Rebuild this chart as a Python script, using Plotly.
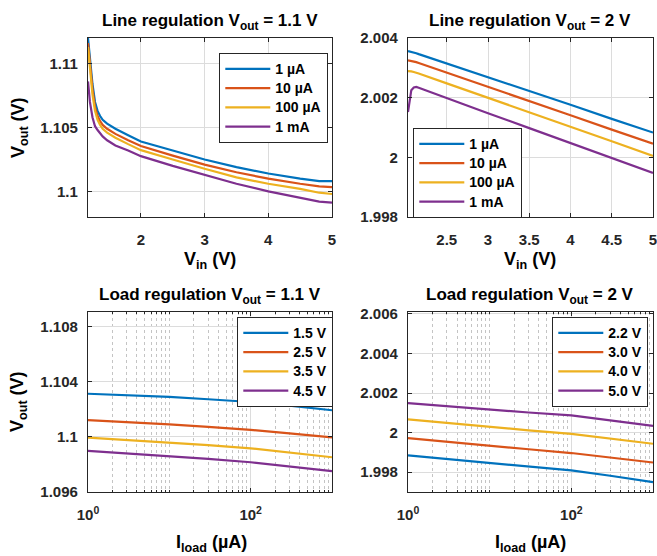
import plotly.graph_objects as go

# ---------------- data ----------------
series_names_line = ["1 µA", "10 µA", "100 µA", "1 mA"]
series_names_load11 = ["1.5 V", "2.5 V", "3.5 V", "4.5 V"]
series_names_load2 = ["2.2 V", "3.0 V", "4.0 V", "5.0 V"]
colors = ["#0072BD", "#D95319", "#EDB120", "#7E2F8E"]

# Line regulation, Vout = 1.1 V
vin_11 = [1.17, 1.2, 1.24, 1.28, 1.32, 1.36, 1.4, 1.47, 1.6, 1.8, 2.0, 2.5, 3.0, 3.5, 4.0, 4.5, 4.8, 5.0]
line11_1uA = [1.1120, 1.1105, 1.1084, 1.1070, 1.1063, 1.1059, 1.1056, 1.1053, 1.1049, 1.1044, 1.1039, 1.1032, 1.1025, 1.1019, 1.1014, 1.1010, 1.1008, 1.1008]
line11_10uA = [1.1116, 1.1100, 1.1080, 1.1066, 1.1059, 1.1055, 1.1052, 1.1049, 1.1045, 1.1040, 1.10355, 1.1028, 1.1021, 1.1015, 1.1010, 1.1006, 1.1004, 1.10034]
line11_100uA = [1.1113, 1.1096, 1.1076, 1.1063, 1.1056, 1.1052, 1.1049, 1.1046, 1.1042, 1.1037, 1.10323, 1.1025, 1.10177, 1.1011, 1.1006, 1.1002, 1.0999, 1.0998]
line11_1mA = [1.1086, 1.1070, 1.1058, 1.1051, 1.1048, 1.1045, 1.1043, 1.1040, 1.1036, 1.1032, 1.10276, 1.1020, 1.10127, 1.1006, 1.1000, 1.0995, 1.0992, 1.09912]

# Line regulation, Vout = 2 V
vin_2 = [2.03, 2.05, 2.07, 2.1, 2.13, 2.16, 2.5, 3.0, 3.5, 4.0, 4.5, 5.0]
line2_1uA = [2.00356, 2.00355, 2.00354, 2.00352, 2.00349, 2.00346, 2.00315, 2.00268, 2.00222, 2.00176, 2.00129, 2.00083]
line2_10uA = [2.00325, 2.00324, 2.00323, 2.00322, 2.00319, 2.00316, 2.00284, 2.00236, 2.00189, 2.00141, 2.00093, 2.00046]
line2_100uA = [2.00289, 2.00289, 2.00288, 2.00286, 2.00284, 2.00281, 2.00248, 2.00200, 2.00151, 2.00102, 2.00054, 2.00005]
line2_1mA = [2.00152, 2.00195, 2.00225, 2.00234, 2.00236, 2.00233, 2.00198, 2.00148, 2.00098, 2.00048, 1.99998, 1.99948]

# Load regulation (I_load in µA)
iload = [1, 3, 10, 30, 100, 300, 1000]
load11_15 = [1.10313, 1.10302, 1.10290, 1.10273, 1.10253, 1.10227, 1.10193]
load11_25 = [1.10121, 1.10107, 1.10090, 1.10072, 1.10051, 1.10026, 1.09996]
load11_35 = [1.09994, 1.09978, 1.09960, 1.09940, 1.09917, 1.09887, 1.09852]
load11_45 = [1.09898, 1.09881, 1.09862, 1.09840, 1.09816, 1.09786, 1.09751]

load2_22 = [1.99885, 1.99866, 1.99847, 1.99828, 1.99809, 1.99782, 1.99750]
load2_30 = [1.99972, 1.99953, 1.99935, 1.99916, 1.99897, 1.99875, 1.99849]
load2_40 = [2.00067, 2.00048, 2.00030, 2.00012, 1.99994, 1.99971, 1.99944]
load2_50 = [2.00149, 2.00133, 2.00118, 2.00102, 2.00087, 2.00063, 2.00034]

# ticks
ytick_tl = [1.1, 1.105, 1.11]
ytext_tl = ["1.1", "1.105", "1.11"]
xtick_tl = [2, 3, 4, 5]
ytick_tr = [1.998, 2.0, 2.002, 2.004]
ytext_tr = ["1.998", "2", "2.002", "2.004"]
xtick_tr = [2.5, 3, 3.5, 4, 4.5, 5]
ytick_bl = [1.096, 1.1, 1.104, 1.108]
ytext_bl = ["1.096", "1.1", "1.104", "1.108"]
ytick_br = [1.998, 2.0, 2.002, 2.004, 2.006]
ytext_br = ["1.998", "2", "2.002", "2.004", "2.006"]
xtick_log = [1, 100]
xtext_log = ["10<sup>0</sup>", "10<sup>2</sup>"]
minor_log = [2, 3, 4, 5, 6, 7, 8, 9, 10, 20, 30, 40, 50, 60, 70, 80, 90,
             200, 300, 400, 500, 600, 700, 800, 900]

# ---------------- figure ----------------
W, H = 657, 556


def fx(px):
    return px / W


def fy(py):
    return (H - py) / H


FONT = "Liberation Sans, Arial, sans-serif"
AXC = "#262626"
fig = go.Figure()


def leg_name(s):
    return '<span style="font-size:14px">' + s + "</span>"


panels = [
    ("x", "y", "legend", vin_11, [line11_1uA, line11_10uA, line11_100uA, line11_1mA], series_names_line),
    ("x2", "y2", "legend2", vin_2, [line2_1uA, line2_10uA, line2_100uA, line2_1mA], series_names_line),
    ("x3", "y3", "legend3", iload, [load11_15, load11_25, load11_35, load11_45], series_names_load11),
    ("x4", "y4", "legend4", iload, [load2_22, load2_30, load2_40, load2_50], series_names_load2),
]
for xa, ya, lg, xs, ys_list, names in panels:
    for ys, nm, c in zip(ys_list, names, colors):
        fig.add_trace(go.Scatter(x=xs, y=ys, mode="lines", name=leg_name(nm), xaxis=xa, yaxis=ya,
                                 legend=lg, line=dict(color=c, width=2.2)))

tickfont = dict(family=FONT, size=15, color=AXC, weight="bold")
base_ax = dict(showline=True, linecolor=AXC, linewidth=1.3, mirror="ticks", ticks="inside",
               ticklen=4, tickcolor=AXC, tickwidth=1, showgrid=True, gridcolor="#dcdcdc",
               gridwidth=1, zeroline=False, tickfont=tickfont, automargin=False,
               ticklabeloverflow="allow")

dx_l = [fx(88), fx(332)]
dx_r = [fx(408), fx(653)]
dy_t = [fy(217), fy(38)]
dy_b = [fy(492), fy(312)]

minor = dict(tickvals=minor_log, showgrid=True, griddash="dot", gridcolor="#c4c4c4",
             gridwidth=1, ticks="inside", ticklen=2, tickcolor=AXC)

fig.update_layout(
    width=W, height=H, margin=dict(l=0, r=0, t=0, b=0, autoexpand=False),
    paper_bgcolor="white", plot_bgcolor="white", showlegend=True,
    xaxis=dict(base_ax, domain=dx_l, anchor="y", range=[1.17, 5], tickvals=xtick_tl,
               ticklabelstandoff=9),
    yaxis=dict(base_ax, domain=dy_t, anchor="x", range=[1.098, 1.112], tickvals=ytick_tl,
               ticktext=ytext_tl, ticklabelstandoff=6),
    xaxis2=dict(base_ax, domain=dx_r, anchor="y2", range=[2.03, 5], tickvals=xtick_tr,
                ticklabelstandoff=9),
    yaxis2=dict(base_ax, domain=dy_t, anchor="x2", range=[1.998, 2.004], tickvals=ytick_tr,
                ticktext=ytext_tr, ticklabelstandoff=6),
    xaxis3=dict(base_ax, domain=dx_l, anchor="y3", type="log", range=[0, 3], tickvals=xtick_log,
                ticktext=xtext_log, ticklabelstandoff=9, minor=minor),
    yaxis3=dict(base_ax, domain=dy_b, anchor="x3", range=[1.096, 1.10906], tickvals=ytick_bl,
                ticktext=ytext_bl, ticklabelstandoff=6),
    xaxis4=dict(base_ax, domain=dx_r, anchor="y4", type="log", range=[0, 3], tickvals=xtick_log,
                ticktext=xtext_log, ticklabelstandoff=9, minor=minor),
    yaxis4=dict(base_ax, domain=dy_b, anchor="x4", range=[1.997, 2.0061], tickvals=ytick_br,
                ticktext=ytext_br, ticklabelstandoff=6),
)

legfont = dict(family=FONT, size=12.5, color="black", weight="bold")
leg_base = dict(bgcolor="white", bordercolor=AXC, borderwidth=1.3, font=legfont,
                xanchor="left", yanchor="top", xref="paper", yref="paper",
                itemwidth=45, tracegroupgap=0)
fig.update_layout(
    legend=dict(leg_base, x=fx(219), y=fy(53)),
    legend2=dict(leg_base, x=fx(413), y=fy(128)),
    legend3=dict(leg_base, x=fx(237), y=fy(317)),
    legend4=dict(leg_base, x=fx(552), y=fy(317)),
)

tfont = dict(family=FONT, size=17, color="black")
afont = dict(family=FONT, size=18, color="black")


def ann(text, xpx, ypx, font, angle=0):
    fig.add_annotation(text=text, x=fx(xpx), y=fy(ypx), xref="paper", yref="paper",
                       showarrow=False, xanchor="center", yanchor="middle", font=font,
                       textangle=angle)


ann("<b>Line regulation V<sub>out</sub> = 1.1 V</b>", 210, 22, tfont)
ann("<b>Line regulation V<sub>out</sub> = 2 V</b>", 530, 22, tfont)
ann("<b>Load regulation V<sub>out</sub> = 1.1 V</b>", 210, 296, tfont)
ann("<b>Load regulation V<sub>out</sub> = 2 V</b>", 530, 296, tfont)
ann("<b>V<sub>in</sub> (V)</b>", 210, 260, afont)
ann("<b>V<sub>in</sub> (V)</b>", 530, 260, afont)
ann("<b>I<sub>load</sub> (µA)</b>", 211, 543, afont)
ann("<b>I<sub>load</sub> (µA)</b>", 530, 543, afont)
ann("<b>V<sub>out</sub> (V)</b>", 19, 128, afont, -90)
ann("<b>V<sub>out</sub> (V)</b>", 19, 402, afont, -90)

fig.write_html("out.html", config={"displayModeBar": False},
               post_script="document.body.style.margin='0';document.body.style.overflow='hidden';")
